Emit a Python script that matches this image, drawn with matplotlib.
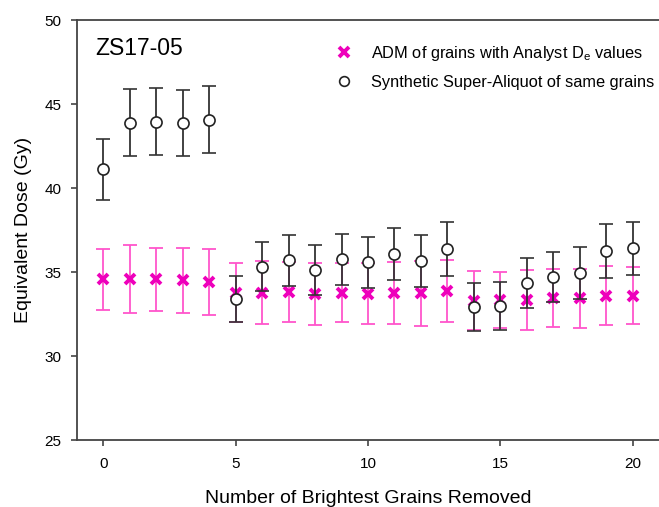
import numpy as np
import matplotlib
matplotlib.use("Agg")
from matplotlib import pyplot as plt
from matplotlib.lines import Line2D

plt.rcParams['font.family'] = ['Liberation Sans', 'DejaVu Sans']

# grains removed
grains = list(range(21))

# ADM of grains with analyst De values
adm = [34.56, 34.58, 34.56, 34.50, 34.42, 33.77, 33.77, 33.81, 33.67, 33.77, 33.71,
       33.75, 33.73, 33.87, 33.29, 33.33, 33.33, 33.43, 33.43, 33.59, 33.59]
adm_err = [1.83, 2.0, 1.88, 1.92, 1.97, 1.75, 1.86, 1.8, 1.85, 1.75, 1.82,
           1.85, 1.94, 1.82, 1.77, 1.68, 1.77, 1.73, 1.76, 1.77, 1.71]

# synthetic super-aliquot of same grains
ssa = [41.11, 43.89, 43.95, 43.85, 44.07, 33.39, 35.32, 35.69, 35.12, 35.75, 35.57,
       36.07, 35.65, 36.37, 32.92, 32.98, 34.35, 34.70, 34.94, 36.25, 36.41]
ssa_err = [1.8, 2.0, 1.99, 1.97, 1.98, 1.37, 1.47, 1.52, 1.5, 1.53, 1.52,
           1.56, 1.55, 1.6, 1.42, 1.41, 1.47, 1.48, 1.52, 1.6, 1.59]

pink_bar = '#ff55cc'
pink_mark = '#ee00bb'
black = '#222222'

fig = plt.figure(figsize=(6.59, 5.07), dpi=100)
ax = fig.add_axes([77/659, 67/507, 1 - 77/659, (440-20)/507])

ax.errorbar(grains, adm, yerr=adm_err, fmt='none', ecolor=pink_bar,
            elinewidth=1.3, capsize=5, capthick=1.3, zorder=2)
ax.plot(grains, adm, linestyle='none', marker='x', markersize=7,
        markeredgewidth=2.8, color=pink_mark, zorder=3)
ax.errorbar(grains, ssa, yerr=ssa_err, fmt='o', color=black, ecolor='#333333',
            markerfacecolor='white', markeredgecolor=black, markersize=8,
            markeredgewidth=1.2, elinewidth=1.3, capsize=5, capthick=1.3, zorder=4)

ax.set_xlim(-1, 21)
ax.set_ylim(25, 50)
ax.set_xticks([0, 5, 10, 15, 20])
ax.set_yticks([25, 30, 35, 40, 45, 50])
ax.tick_params(direction='out', length=4, width=1.2, color='#444444',
               labelsize=11, pad=7)
ax.tick_params(axis='x', pad=8)
ax.spines['right'].set_visible(False)
for s in ['left', 'bottom', 'top']:
    ax.spines[s].set_color('#444444')
    ax.spines[s].set_linewidth(1.3)

ax.set_xlabel('Number of Brightest Grains Removed', fontsize=14, labelpad=14)
ax.set_ylabel('Equivalent Dose (Gy)', fontsize=14, labelpad=9)

ax.text(95/659, 1 - 55/507, 'ZS17-05', transform=fig.transFigure, fontsize=16.5)

handles = [
    Line2D([], [], linestyle='none', marker='x', markersize=7, markeredgewidth=2.8,
           color=pink_mark),
    Line2D([], [], linestyle='none', marker='o', markersize=7, markeredgewidth=1.2,
           markerfacecolor='white', markeredgecolor=black),
]
labels = ['ADM of grains with Analyst D$_\\mathregular{e}$ values',
          'Synthetic Super-Aliquot of same grains']
fig.legend(handles, labels, loc='upper left', bbox_to_anchor=(328/659, 1 - 36/507),
           frameon=False, fontsize=11.8, handlelength=1.0, handletextpad=1.15,
           borderpad=0, labelspacing=0.7)

fig.savefig('out.png', dpi=100)
